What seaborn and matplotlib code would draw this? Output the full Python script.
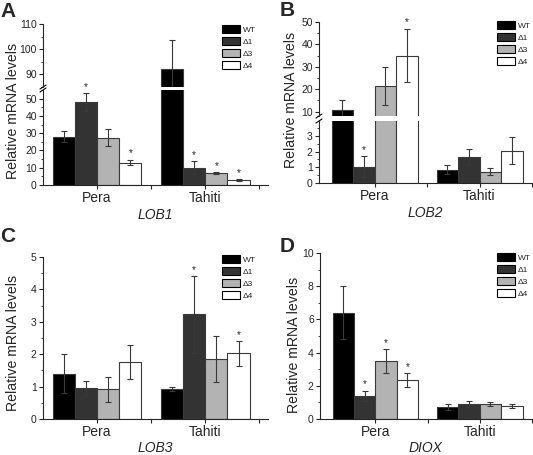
import numpy as np
import pandas as pd
import matplotlib
matplotlib.use('Agg')
import matplotlib.pyplot as plt
import seaborn as sns
from matplotlib.patches import Patch
from matplotlib.ticker import MultipleLocator

# data: order = Pera (WT, d1, d3, d4), Tahiti (WT, d1, d3, d4)
cultivars = ['Pera', 'Tahiti']
lines = ['WT', 'Δ1', 'Δ3', 'Δ4']
colors = ['#000000', '#333333', '#b3b3b3', '#ffffff']

lob1_mean = [28, 48, 27.5, 13, 92, 10, 6.8, 2.8]
lob1_err = [3, 5, 5.2, 1.7, 11.5, 3.7, 0.5, 0.4]
lob1_sig = [0, 1, 0, 1, 0, 1, 1, 1]

lob2_mean = [10.5, 1.05, 21.5, 35, 0.85, 1.65, 0.72, 2.05]
lob2_err = [4.5, 0.68, 8.5, 12, 0.28, 0.5, 0.22, 0.85]
lob2_sig = [0, 1, 0, 1, 0, 0, 0, 0]

lob3_mean = [1.4, 0.95, 0.92, 1.75, 0.93, 3.23, 1.85, 2.03]
lob3_err = [0.6, 0.23, 0.38, 0.53, 0.07, 1.18, 0.72, 0.38]
lob3_sig = [0, 0, 0, 0, 0, 1, 0, 1]

diox_mean = [6.4, 1.4, 3.5, 2.35, 0.7, 0.9, 0.9, 0.78]
diox_err = [1.6, 0.3, 0.7, 0.4, 0.18, 0.2, 0.1, 0.1]
diox_sig = [0, 1, 1, 1, 0, 0, 0, 0]

sns.set_style('ticks')
plt.rcParams['font.family'] = ['Liberation Sans', 'DejaVu Sans']
plt.rcParams['axes.linewidth'] = 0.8

W, H = 533, 455
fig = plt.figure(figsize=(W / 100, H / 100), dpi=100)


def px_axes(x0, x1, ytop, ybot):
    ax = fig.add_axes([x0 / W, 1 - ybot / H, (x1 - x0) / W, (ybot - ytop) / H])
    ax.patch.set_alpha(0)
    return ax


def bars(ax, mean, err):
    df = pd.DataFrame({'cultivar': np.repeat(cultivars, 4), 'line': lines * 2, 'value': mean})
    sns.barplot(data=df, x='cultivar', y='value', hue='line', order=cultivars, hue_order=lines,
                palette=colors, errorbar=None, width=0.82, edgecolor='#3a3a3a', linewidth=0.8,
                legend=False, ax=ax)
    pos = {}
    conts = list(ax.containers)
    for i, cont in enumerate(conts):
        for j, bar in enumerate(cont):
            k = j * 4 + i
            pos[k] = bar.get_x() + bar.get_width() / 2
    for k in range(8):
        ax.errorbar(pos[k], mean[k], yerr=err[k], color='#383838', lw=0.8, capsize=2.5,
                    capthick=0.8, zorder=5)
    return pos


def style(ax, xlim, ylim, major, minor, bottom=True):
    ax.set_xlim(*xlim)
    ax.set_ylim(*ylim)
    ax.yaxis.set_major_locator(MultipleLocator(major))
    ax.yaxis.set_minor_locator(MultipleLocator(minor))
    ax.tick_params(axis='y', which='major', direction='out', length=3, width=0.8, labelsize=7.5, pad=1.5)
    ax.tick_params(axis='y', which='minor', direction='out', length=1.6, width=0.6)
    ax.spines['right'].set_visible(False)
    ax.spines['top'].set_visible(False)
    ax.set_ylabel('')
    ax.set_xlabel('')
    if bottom:
        ax.set_xticks([0, 1])
        ax.set_xticklabels(cultivars, fontsize=10)
        ax.set_xticks([0.5, 1.5], minor=True)
        ax.tick_params(axis='x', which='major', direction='out', length=3, width=0.8, pad=1.5)
        ax.tick_params(axis='x', which='minor', direction='out', length=3, width=0.8)
    else:
        ax.spines['bottom'].set_visible(False)
        ax.set_xticks([])
        ax.tick_params(axis='x', which='both', length=0)


def stars(axes_list, pos, mean, err, sig):
    for k in range(8):
        if not sig[k]:
            continue
        y = mean[k] + err[k]
        for ax in axes_list:
            lo, hi = ax.get_ylim()
            if lo <= y <= hi:
                ax.annotate('*', (pos[k], y), xytext=(0, 4.5), textcoords='offset points',
                            ha='center', va='center', fontsize=7, annotation_clip=False, zorder=10)
                break


def break_marks(lower, upper):
    for ax, yf in [(lower, 1), (upper, 0)]:
        bb = ax.get_position()
        dx = 3 / (bb.width * W)
        dy = 2 / (bb.height * H)
        ax.plot([-dx, dx], [yf - dy, yf + dy], transform=ax.transAxes, color='k', lw=0.8, clip_on=False)


def legend(x, y):
    handles = [Patch(facecolor=c, edgecolor='k', linewidth=0.8, label=l) for c, l in zip(colors, lines)]
    fig.legend(handles=handles, loc='upper left', bbox_to_anchor=(x / W, 1 - y / H), frameon=False,
               fontsize=6, handlelength=2.16, handleheight=1.15, labelspacing=0.36,
               handletextpad=0.3, borderpad=0, borderaxespad=0)


# panel A (broken axis)
a_lo = px_axes(43, 268, 90, 185)
a_hi = px_axes(43, 268, 24, 87)
pos = bars(a_lo, lob1_mean, lob1_err)
bars(a_hi, lob1_mean, lob1_err)
style(a_lo, (-0.5, 1.58), (0, 55), 10, 5)
style(a_hi, (-0.5, 1.58), (85, 110), 10, 5, bottom=False)
stars([a_lo, a_hi], pos, lob1_mean, lob1_err, lob1_sig)
break_marks(a_lo, a_hi)
a_lo.set_xlabel('LOB1', fontsize=10, style='italic', labelpad=2)
legend(222, 25)

# panel B (broken axis)
b_lo = px_axes(319, 532, 121, 183)
b_hi = px_axes(319, 532, 22, 116)
pos = bars(b_lo, lob2_mean, lob2_err)
bars(b_hi, lob2_mean, lob2_err)
style(b_lo, (-0.53, 1.5), (0, 3.95), 1, 0.5)
style(b_hi, (-0.53, 1.5), (8, 50), 10, 5, bottom=False)
stars([b_lo, b_hi], pos, lob2_mean, lob2_err, lob2_sig)
break_marks(b_lo, b_hi)
b_lo.set_xlabel('LOB2', fontsize=10, style='italic', labelpad=2)
legend(497, 21)

# panel C
c_ax = px_axes(43, 268, 257, 419)
pos = bars(c_ax, lob3_mean, lob3_err)
style(c_ax, (-0.5, 1.58), (0, 5), 1, 0.5)
stars([c_ax], pos, lob3_mean, lob3_err, lob3_sig)
c_ax.set_xlabel('LOB3', fontsize=10, style='italic', labelpad=1)
legend(222, 255)

# panel D
d_ax = px_axes(320, 532, 253, 419)
pos = bars(d_ax, diox_mean, diox_err)
style(d_ax, (-0.53, 1.5), (0, 10), 2, 1)
stars([d_ax], pos, diox_mean, diox_err, diox_sig)
d_ax.set_xlabel('DIOX', fontsize=10, style='italic', labelpad=1)
legend(497, 253)

# y labels and panel letters
for x, y in [(13.5, 111), (291, 100), (13.5, 343), (294, 345)]:
    fig.text(x / W, 1 - y / H, 'Relative mRNA levels', rotation=90, ha='center', va='center', fontsize=10.2)
for x, y, t in [(0, 2, 'A'), (280, 1, 'B'), (0, 227, 'C'), (280, 237, 'D')]:
    fig.text(x / W, 1 - y / H, t, ha='left', va='top', fontsize=15, fontweight='bold')

fig.savefig('out.png', dpi=100)
